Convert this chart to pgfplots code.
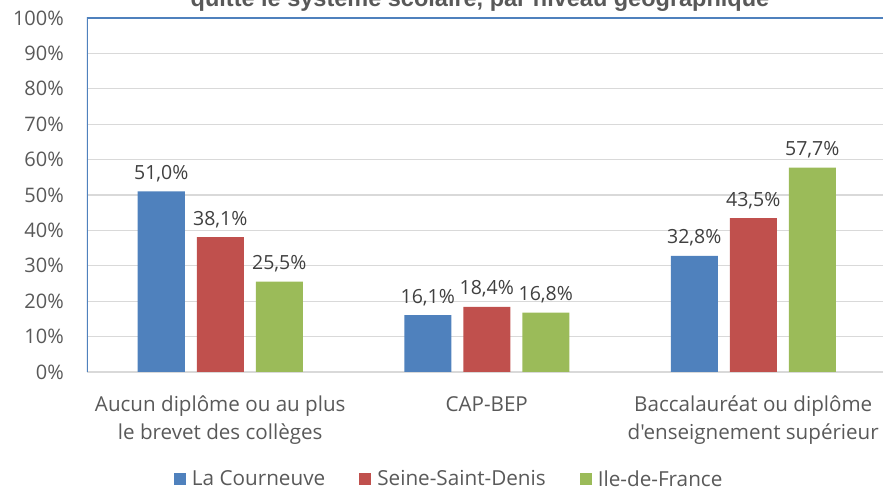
\documentclass[border=0pt]{standalone}
\usepackage{pgfplots}
\pgfplotsset{compat=1.18}
\usepackage{fontspec}
\setmainfont{Open Sans}[Ligatures=TeXOff]
\newfontfamily\titlefont{Liberation Sans}
\definecolor{cBlue}{HTML}{4F81BD}
\definecolor{cRed}{HTML}{C0504D}
\definecolor{cGreen}{HTML}{9BBB59}
\definecolor{cGrid}{HTML}{D9D9D9}
\definecolor{cText}{HTML}{595959}
\definecolor{cLab}{HTML}{404040}
\definecolor{cFrame}{HTML}{4F81BD}
\begin{document}
\begin{tikzpicture}
\begin{axis}[
  at={(0pt,0pt)}, anchor=south west,
  scale only axis,
  width=799.5pt, height=354pt,
  ybar=12pt, bar width=47pt,
  xmin=-0.5, xmax=2.5,
  ymin=0, ymax=100,
  xtick={0,1,2},
  xticklabels={{Aucun diplôme ou au plus\\le brevet des collèges},{CAP-BEP},{Baccalauréat ou diplôme\\d'enseignement supérieur}},
  ytick={0,10,...,100},
  yticklabels={0\%,10\%,20\%,30\%,40\%,50\%,60\%,70\%,80\%,90\%,100\%},
  major tick length=0pt,
  axis line style={draw=none},
  ymajorgrids,
  grid style={draw=cGrid, line width=1.3pt},
  yticklabel style={font=\fontsize{20}{24}\selectfont, text=cText, inner sep=0pt, anchor=east, xshift=-23pt},
  xticklabel style={font=\fontsize{20.6}{28}\selectfont, text=cText, inner sep=0pt, align=center, anchor=north, yshift=-24pt},
  /pgf/number format/assume math mode=true,
  nodes near coords={\pgfmathprintnumber[fixed,fixed zerofill,precision=1,use comma]{\pgfplotspointmeta}\%},
  every node near coord/.append style={font=\fontsize{19.5}{23}\selectfont, text=cLab, inner sep=0pt, anchor=base, yshift=12pt},
  legend columns=-1,
  legend style={draw=none, fill=none, at={(0.453,-0.302)}, anchor=center,
    font=\fontsize{20.7}{24}\selectfont, text=cText,
    /tikz/every even column/.append style={column sep=32pt},
    /tikz/every odd column/.append style={column sep=4pt}},
  legend image code/.code={\fill[#1] (0pt,-6pt) rectangle (12pt,6pt);},
  legend cell align=left,
]
\addplot[fill=cBlue, draw=none] coordinates {(0,51.0) (1,16.1) (2,32.8)};
\addplot[fill=cRed, draw=none] coordinates {(0,38.1) (1,18.4) (2,43.5)};
\addplot[fill=cGreen, draw=none] coordinates {(0,25.5) (1,16.8) (2,57.7)};
\legend{La Courneuve, Seine-Saint-Denis, Ile-de-France}
\draw[cFrame, line width=1.2pt] (rel axis cs:0,0) -- (rel axis cs:0,1) -- (rel axis cs:1,1);
\end{axis}
\node[font=\titlefont\bfseries\fontsize{23.5}{28}\selectfont, text=cText, anchor=base] at (393pt,365pt) {quitté le système scolaire, par niveau géographique};
\pgfresetboundingbox
\path[use as bounding box] (-87pt,-117pt) rectangle (796pt,372pt);
\end{tikzpicture}
\end{document}
